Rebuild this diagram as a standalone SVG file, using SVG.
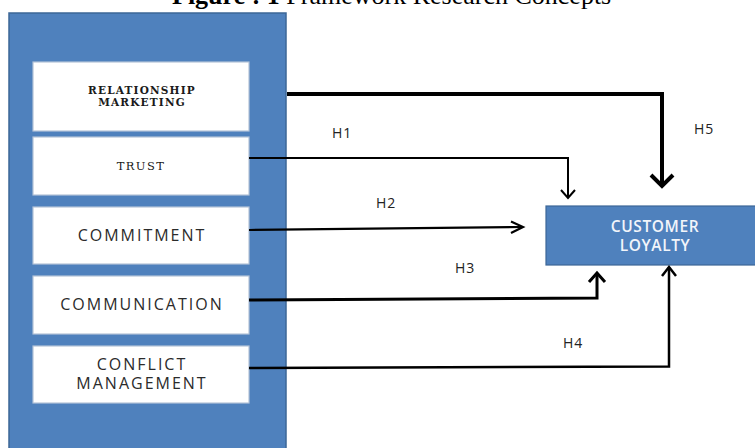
<svg xmlns="http://www.w3.org/2000/svg" width="755" height="448" viewBox="0 0 755 448">
<style>
.blue{fill:#4f81bd;stroke:#3d6797;stroke-width:1.5}
.box{fill:#ffffff;stroke:#b4c3d8;stroke-width:1.2}
.lbl{font-family:"Open Sans",sans-serif;font-size:16px;fill:#2b2b2b;letter-spacing:2px;text-anchor:middle}
.srf{font-family:"DejaVu Serif",serif;fill:#1a1a1a;text-anchor:middle}
.h{font-family:"Open Sans",sans-serif;font-size:14px;fill:#222;letter-spacing:1px}
.ln{fill:none;stroke:#000;stroke-linejoin:miter}
.cl{font-family:"Open Sans",sans-serif;font-size:15.5px;font-weight:600;fill:#f2f5fa;text-anchor:middle;letter-spacing:0.6px}
</style>
<rect width="755" height="448" fill="#fff"/>
<text x="172" y="4" font-family="Liberation Serif,serif" font-size="26" fill="#000"><tspan font-weight="bold">Figure : 1</tspan> Framework Research Concepts</text>
<g id="framework">
<rect class="blue" x="9" y="13" width="277" height="440"/>
</g>
<g id="relationship-marketing">
<rect class="box" x="33" y="62" width="216" height="69"/>
<text class="srf" x="142" y="94" font-size="10.5" font-weight="bold" letter-spacing="1.2">RELATIONSHIP</text>
<text class="srf" x="142" y="106" font-size="10.5" font-weight="bold" letter-spacing="1.2">MARKETING</text>
</g>
<g id="trust">
<rect class="box" x="33" y="137" width="216" height="58"/>
<text class="srf" x="141" y="170" font-size="11.5" letter-spacing="1.4">TRUST</text>
</g>
<g id="commitment">
<rect class="box" x="33" y="207" width="216" height="57"/>
<text class="lbl" x="142" y="241">COMMITMENT</text>
</g>
<g id="communication">
<rect class="box" x="33" y="276" width="216" height="58"/>
<text class="lbl" x="142" y="310">COMMUNICATION</text>
</g>
<g id="conflict-management">
<rect class="box" x="33" y="346" width="216" height="57"/>
<text class="lbl" x="142" y="370">CONFLICT</text>
<text class="lbl" x="142" y="389">MANAGEMENT</text>
</g>
<g id="customer-loyalty">
<rect x="546" y="206" width="215" height="59" fill="#4f81bd" stroke="#3d6797" stroke-width="1.2"/>
<text class="cl" x="655" y="232">CUSTOMER</text>
<text class="cl" x="655" y="251">LOYALTY</text>
</g>
<g id="connectors">
<path class="ln" stroke-width="4" d="M287,94 L662,94 L662,186"/>
<polyline class="ln" stroke-width="4" points="651,175 662,186 673,175"/>
<path class="ln" stroke-width="2" d="M249,158 L568,158 L568,198"/>
<polyline class="ln" stroke-width="2" points="561,190 568,198 575,190"/>
<path class="ln" stroke-width="2.2" d="M249,230 L523,227"/>
<polyline class="ln" stroke-width="2.2" points="511,221.5 523,227 511,233"/>
<path class="ln" stroke-width="3" d="M249,300 L597,298 L597,273"/>
<polyline class="ln" stroke-width="3" points="589,282 597,273 605,282"/>
<path class="ln" stroke-width="2.5" d="M249,368 L669,366.5 L669,267"/>
<polyline class="ln" stroke-width="2.5" points="662,276 669,267 676,276"/>
</g>
<g id="labels">
<text class="h" x="332" y="138">H1</text>
<text class="h" x="376" y="208">H2</text>
<text class="h" x="455" y="273">H3</text>
<text class="h" x="563" y="348">H4</text>
<text class="h" x="694" y="134">H5</text>
</g>
</svg>
